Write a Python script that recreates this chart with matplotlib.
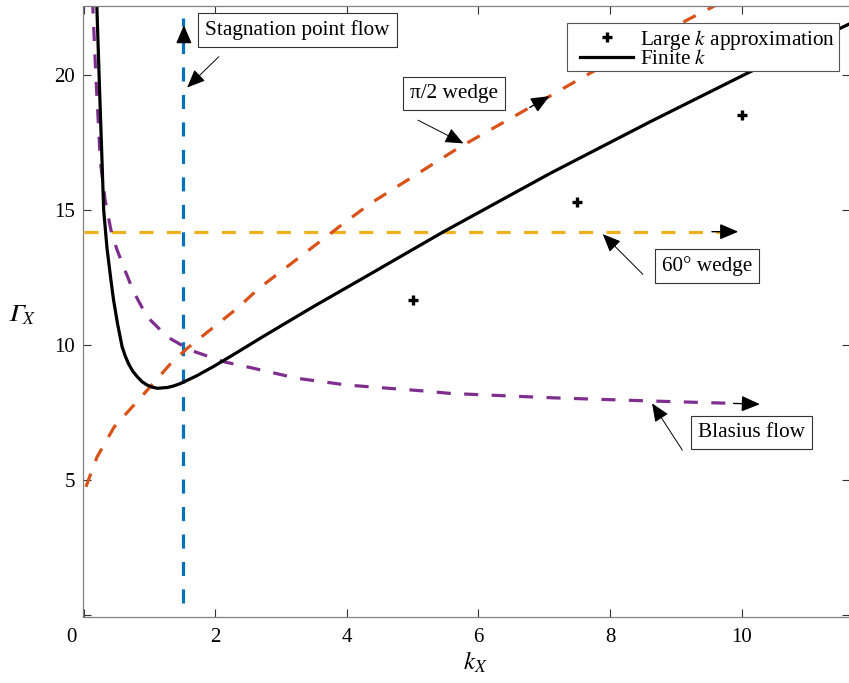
import matplotlib
matplotlib.use("Agg")
import matplotlib.pyplot as plt
import matplotlib.transforms as mtransforms
from matplotlib.path import Path

plt.rcParams['font.family'] = ['Liberation Serif', 'DejaVu Serif']
plt.rcParams['mathtext.fontset'] = 'stix'

# finite k curve
k_fin = [0.19, 0.23, 0.30, 0.35, 0.41, 0.45, 0.51, 0.58, 0.63, 0.68, 0.74, 0.81, 0.88,
         0.96, 1.04, 1.12, 1.27, 1.37, 1.47, 1.72, 1.98, 2.35, 2.74, 3.50, 4.21, 5.47,
         7.09, 8.61, 10.13, 11.55, 11.75]
g_fin = [23.0, 20.0, 15.0, 13.6, 12.41, 11.67, 10.80, 9.94, 9.58, 9.30, 9.04, 8.83, 8.65,
         8.52, 8.44, 8.40, 8.43, 8.49, 8.58, 8.87, 9.22, 9.76, 10.34, 11.44, 12.43, 14.20,
         16.36, 18.27, 20.12, 21.79, 22.02]

# large k approximation
k_large = [5.0, 7.5, 10.0]
g_large = [11.67, 15.31, 18.54]

# Blasius flow
k_blas = [0.13, 0.18, 0.25, 0.32, 0.41, 0.50, 0.61, 0.76, 0.96, 1.27, 1.62, 2.13, 2.58,
          3.24, 4.00, 5.17, 5.57, 7.09, 8.61, 9.88]
g_blas = [22.8, 20.0, 16.8, 15.4, 14.26, 13.55, 12.85, 11.95, 11.05, 10.30, 9.81, 9.38, 9.14,
          8.77, 8.52, 8.30, 8.21, 8.05, 7.93, 7.84]

# pi/2 wedge
k_wedge = [0.03, 0.20, 0.46, 0.76, 1.01, 1.32, 1.57, 1.98, 2.33, 2.66, 3.95, 4.36,
           5.72, 6.89, 7.60, 9.22, 9.70]
g_wedge = [4.75, 5.86, 6.97, 7.78, 8.46, 9.32, 9.88, 10.68, 11.36, 12.10, 14.51, 15.25,
           17.34, 18.95, 19.94, 22.10, 22.70]

# 60 deg wedge and stagnation point flow
k_60 = [0.0, 9.75]
g_60 = [14.2, 14.2]
k_stag = [1.5, 1.5]
g_stag = [0.44, 22.1]

blue = '#0072BD'
orange = '#D95319'
yellow = '#EDB120'
purple = '#7E2F8E'

fig = plt.figure(figsize=(8.49, 6.83), dpi=100)
ax = fig.add_axes([83.3/849, 1-616.7/683, 766.7/849, 611/683])

dash = (4.4, 4.2)
ax.plot(k_stag, g_stag, color=blue, lw=2.3, dashes=dash)
ax.plot(k_60, g_60, color=yellow, lw=2.3, dashes=dash)
ax.plot(k_wedge, g_wedge, color=orange, lw=2.3, dashes=dash)
ax.plot(k_blas, g_blas, color=purple, lw=2.3, dashes=dash)
h1, = ax.plot(k_large, g_large, ls='none', marker='+', ms=7.5, mew=2.4, color='k')
h2, = ax.plot(k_fin, g_fin, color='k', lw=2.3)

ax.set_xlim(-0.01, 11.65)
ax.set_ylim(-0.06, 22.57)

ax.set_xticks([0, 2, 4, 6, 8, 10])
ax.set_yticks([0, 5, 10, 15, 20])
ax.set_yticklabels(['', '5', '10', '15', '20'])
ax.tick_params(direction='in', length=5.8, width=0.8, color='#333333',
               labelsize=15, top=True, right=True)
ax.tick_params(axis='x', pad=8)
ax.tick_params(axis='y', pad=6)
for s in ax.spines.values():
    s.set_color('#808080')
    s.set_linewidth(0.9)

# the "0" label sits a bit left of the axis in the original
lab0 = ax.get_xticklabels()[0]
lab0.set_transform(lab0.get_transform() +
                   mtransforms.ScaledTranslation(-13/100, 0, fig.dpi_scale_trans))

ax.set_xlabel('$k_X$', fontsize=18)
ax.xaxis.set_label_coords(0.511, -0.054)
ax.set_ylabel('$\U0001D6E4_X$', fontsize=18, rotation=0, ha='center', va='center')
ax.yaxis.set_label_coords(-0.081, 0.494)

# arrows showing where the asymptotic lines go
head = dict(arrowstyle='-|>,head_length=0.75,head_width=0.32', color='k', lw=1.0,
            mutation_scale=15, shrinkA=0, shrinkB=0)
ax.annotate('', xy=(1.52, 21.85), xytext=(1.52, 21.2), arrowprops=head)
ax.annotate('', xy=(9.95, 14.2), xytext=(9.55, 14.2), arrowprops=head)
ax.annotate('', xy=(10.28, 7.81), xytext=(9.88, 7.84), arrowprops=head)
ax.annotate('', xy=(7.08, 19.22), xytext=(6.78, 18.80), arrowprops=head)

# labelled text arrows
box = dict(boxstyle='square,pad=0.33', fc='white', ec='#333333', lw=0.8)
thin = dict(arrowstyle='-|>,head_length=0.75,head_width=0.32', color='k', lw=0.7,
            mutation_scale=15, shrinkA=0, shrinkB=0)
fs = 15.3
ax.text(3.25, 21.67, 'Stagnation point flow', fontsize=fs, ha='center', va='center', bbox=box)
ax.annotate('', xy=(1.57, 19.54), xytext=(2.05, 20.68), arrowprops=thin)
ax.text(5.63, 19.32, '\u03c0/2 wedge', fontsize=fs, ha='center', va='center', bbox=box)
ax.annotate('', xy=(5.77, 17.47), xytext=(5.08, 18.33), arrowprops=thin)
ax.text(9.48, 12.94, '60\u00b0 wedge', fontsize=fs, ha='center', va='center', bbox=box)
ax.annotate('', xy=(7.89, 14.11), xytext=(8.50, 12.62), arrowprops=thin)
ax.text(10.15, 6.77, 'Blasius flow', fontsize=fs, ha='center', va='center', bbox=box)
ax.annotate('', xy=(8.64, 7.84), xytext=(9.10, 6.11), arrowprops=thin)

leg = ax.legend([h1, h2], ['Large $k$ approximation', 'Finite $k$'], fontsize=fs,
                loc='upper right', bbox_to_anchor=(0.9857, 0.971), borderaxespad=0,
                fancybox=False, framealpha=1, edgecolor='#555555', handlelength=2.5,
                handletextpad=0.3, labelspacing=-0.1, borderpad=0.2)


# legend frame with more room on the left, like the original
def leg_frame(x0, y0, width, height, mutation_size):
    l, r = x0 - 9, x0 + width
    b, t = y0 + 2.5, y0 + height
    return Path([(l, b), (r, b), (r, t), (l, t), (l, b)], closed=True)


leg.get_frame().set_boxstyle(leg_frame)
leg.get_frame().set_linewidth(0.8)

plt.savefig('out.png', dpi=100)
